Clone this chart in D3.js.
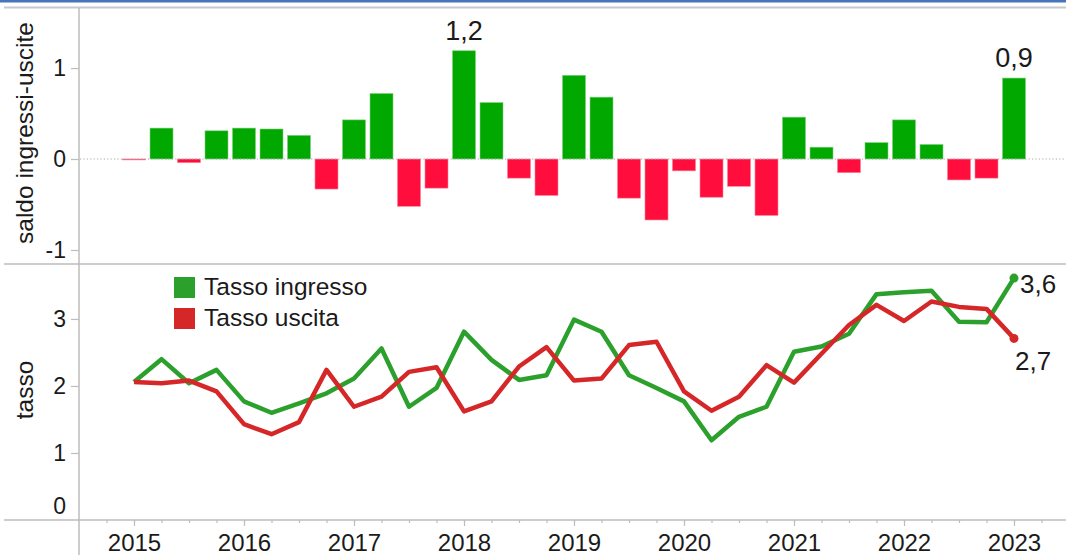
<!DOCTYPE html>
<html>
<head>
<meta charset="utf-8">
<script src="https://cdn.jsdelivr.net/npm/d3@7"></script>
<style>
body{margin:0;background:#fff;}
svg{display:block;font-family:"Liberation Sans",Arial,sans-serif;}
</style>
</head>
<body>
<svg width="1066" height="555"></svg>
<script>
// trimestri
const periodi = ["2015-T1","2015-T2","2015-T3","2015-T4","2016-T1","2016-T2","2016-T3","2016-T4",
  "2017-T1","2017-T2","2017-T3","2017-T4","2018-T1","2018-T2","2018-T3","2018-T4",
  "2019-T1","2019-T2","2019-T3","2019-T4","2020-T1","2020-T2","2020-T3","2020-T4",
  "2021-T1","2021-T2","2021-T3","2021-T4","2022-T1","2022-T2","2022-T3","2022-T4","2023-T1"];
const saldo = [-0.01,0.34,-0.04,0.31,0.34,0.33,0.26,-0.33,
  0.43,0.72,-0.52,-0.32,1.19,0.62,-0.21,-0.40,
  0.92,0.68,-0.43,-0.67,-0.13,-0.42,-0.30,-0.62,
  0.46,0.13,-0.15,0.18,0.43,0.16,-0.23,-0.21,0.89];
const tassoIngresso = [2.06,2.40,2.04,2.24,1.77,1.60,1.74,1.89,
  2.11,2.56,1.69,1.97,2.81,2.39,2.09,2.16,
  2.99,2.81,2.16,1.97,1.77,1.19,1.54,1.69,
  2.51,2.59,2.78,3.37,3.40,3.42,2.96,2.95,3.61];
const tassoUscita = [2.06,2.04,2.08,1.92,1.43,1.28,1.46,2.24,
  1.69,1.84,2.21,2.28,1.62,1.77,2.29,2.58,
  2.08,2.11,2.61,2.66,1.92,1.63,1.84,2.31,
  2.05,2.48,2.91,3.21,2.97,3.26,3.18,3.15,2.71];
const anni = [2015,2016,2017,2018,2019,2020,2021,2022,2023];
const tickSaldo = [-1,0,1];
const tickTasso = [0,1,2,3];
const legenda = ["Tasso ingresso","Tasso uscita"];

const itFmt = d3.formatLocale({decimal:",",thousands:".",grouping:[3],currency:["€",""]}).format(".1f");
const tempo = p => +p.slice(0,4) + (+p.slice(6)-1)/4;

const svg = d3.select("svg");
const W = 1066, H = 555;
const verde = "#2ca02c", rosso = "#d62728";
const barVerde = "#00a800", barRosso = "#ff0d3d";
const grigio = "#bdbdbd", testo = "#1a1a1a";

const x = d3.scaleLinear().domain([2015,2023]).range([134,1014]);
const yS = d3.scaleLinear().domain([-1.154,1.66]).range([264,8]);
const yT = d3.scaleLinear().domain([0,3.82]).range([520,264]);

// cornice
svg.append("rect").attr("x",0).attr("y",0).attr("width",W).attr("height",2.5).attr("fill","#4676b8");
svg.append("line").attr("x1",4).attr("x2",W).attr("y1",7.5).attr("y2",7.5).attr("stroke","#c8c8c8").attr("stroke-width",2);
svg.append("line").attr("x1",4).attr("x2",W).attr("y1",264).attr("y2",264).attr("stroke",grigio).attr("stroke-width",1.5);
svg.append("line").attr("x1",4).attr("x2",W).attr("y1",520).attr("y2",520).attr("stroke",grigio).attr("stroke-width",1.5);
svg.append("line").attr("x1",79).attr("x2",79).attr("y1",8).attr("y2",H).attr("stroke",grigio).attr("stroke-width",1.5);

// pannello saldo
const bw = 23;
svg.append("g").selectAll("rect").data(periodi).enter().append("rect")
  .attr("x",(p)=>x(tempo(p))-bw/2)
  .attr("y",(p,i)=>yS(Math.max(0,saldo[i])))
  .attr("width",bw)
  .attr("height",(p,i)=>Math.abs(yS(saldo[i])-yS(0)))
  .attr("fill",(p,i)=>saldo[i]>=0?barVerde:barRosso)
  .attr("stroke",(p,i)=>saldo[i]>=0?"#7fd07f":"#ff8099")
  .attr("stroke-width",0.6);

svg.append("line").attr("x1",80).attr("x2",W).attr("y1",yS(0)).attr("y2",yS(0))
  .attr("stroke","#aaa").attr("stroke-width",1).attr("stroke-dasharray","1.2,2.2");

const iMax = d3.maxIndex(saldo), iLast = saldo.length-1;
svg.append("g").selectAll("text").data([iMax,iLast]).enter().append("text")
  .attr("x",i=>x(tempo(periodi[i])))
  .attr("y",i=>yS(saldo[i])-11)
  .attr("text-anchor","middle").attr("font-size",27).attr("fill",testo)
  .text(i=>itFmt(saldo[i]));

const axS = svg.append("g").attr("transform","translate(79,0)")
  .call(d3.axisLeft(yS).tickValues(tickSaldo).tickSize(8).tickPadding(5).tickFormat(d=>String(d)));
axS.select(".domain").remove();
axS.selectAll("line").attr("stroke",grigio).attr("stroke-width",1.2);
axS.selectAll("text").attr("font-size",23).attr("fill",testo).attr("font-family","Liberation Sans, Arial, sans-serif");

svg.append("text").attr("transform","translate(33,133) rotate(-90)")
  .attr("text-anchor","middle").attr("font-size",24.5).attr("fill",testo).text("saldo ingressi-uscite");

// pannello tassi
const axT = svg.append("g").attr("transform","translate(79,0)")
  .call(d3.axisLeft(yT).tickValues(tickTasso).tickSize(8).tickPadding(5).tickFormat(d=>String(d)));
axT.select(".domain").remove();
axT.selectAll("line").attr("stroke",grigio).attr("stroke-width",1.2);
axT.selectAll("text").attr("font-size",23).attr("fill",testo).attr("font-family","Liberation Sans, Arial, sans-serif");
axT.selectAll(".tick").filter(d=>d===0).select("text").attr("y",-14);
axT.selectAll(".tick").filter(d=>d===0).select("line").remove();

svg.append("text").attr("transform","translate(33,390) rotate(-90)")
  .attr("text-anchor","middle").attr("font-size",24.5).attr("fill",testo).text("tasso");

const linea = (serie) => d3.line().x((p)=>x(tempo(p))).y((p,i)=>yT(serie[i]));
[[tassoIngresso,verde],[tassoUscita,rosso]].forEach(([serie,col])=>{
  svg.append("path").datum(periodi).attr("d",linea(serie))
    .attr("fill","none").attr("stroke",col).attr("stroke-width",4.5).attr("stroke-linejoin","round");
  svg.append("circle").attr("cx",x(tempo(periodi[iLast]))).attr("cy",yT(serie[iLast]))
    .attr("r",4.5).attr("fill",col);
});
svg.append("text").attr("x",x(tempo(periodi[iLast]))+6).attr("y",yT(tassoIngresso[iLast])+15)
  .attr("font-size",26).attr("fill",testo).text(itFmt(tassoIngresso[iLast]));
svg.append("text").attr("x",x(tempo(periodi[iLast]))+1).attr("y",yT(tassoUscita[iLast])+32)
  .attr("font-size",26).attr("fill",testo).text(itFmt(tassoUscita[iLast]));

// legenda
const leg = svg.append("g").selectAll("g").data(legenda).enter().append("g")
  .attr("transform",(d,i)=>"translate(174,"+(277+i*31)+")");
leg.append("rect").attr("width",21).attr("height",21).attr("fill",(d,i)=>i===0?verde:rosso);
leg.append("text").attr("x",30).attr("y",18).attr("font-size",24.5).attr("fill",testo).text(d=>d);

// asse x
const trimestri = d3.range(2014.75,2023.3,0.25);
const axMin = svg.append("g").attr("transform","translate(0,520)")
  .call(d3.axisBottom(x).tickValues(trimestri).tickSize(3).tickFormat(""));
axMin.select(".domain").remove();
axMin.selectAll("line").attr("stroke",grigio).attr("stroke-width",1.2);
const axX = svg.append("g").attr("transform","translate(0,520)")
  .call(d3.axisBottom(x).tickValues(anni).tickSize(6).tickPadding(8).tickFormat(d=>String(d)));
axX.select(".domain").remove();
axX.selectAll("line").attr("stroke",grigio).attr("stroke-width",1.2);
axX.selectAll("text").attr("font-size",24).attr("fill",testo).attr("font-family","Liberation Sans, Arial, sans-serif");
</script>
</body>
</html>
